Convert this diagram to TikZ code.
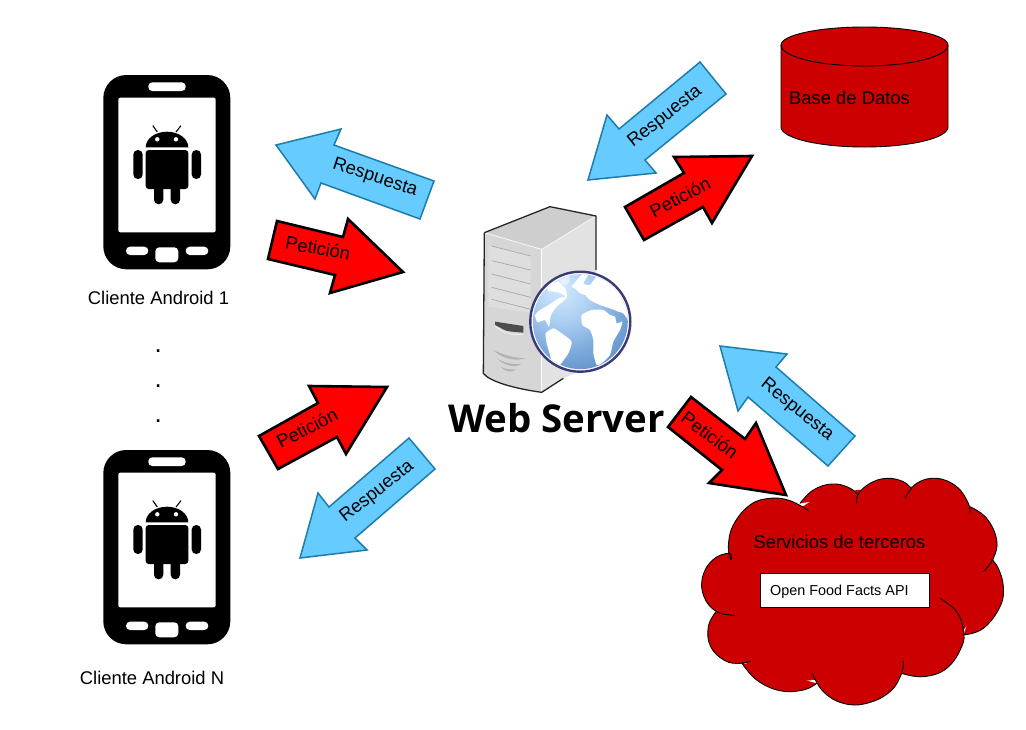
\documentclass[tikz,border=0pt]{standalone}
\usepackage{fontspec}
\setmainfont{Liberation Sans}
\newfontfamily\wsfont{Open Sans}
\definecolor{redfill}{HTML}{FF0000}
\definecolor{bluefill}{HTML}{66CCFF}
\definecolor{blueline}{HTML}{1C7CAC}
\definecolor{darkred}{HTML}{CC0000}
\definecolor{srvtop}{HTML}{CECECE}
\definecolor{srvfront}{HTML}{D6D6D6}
\definecolor{srvside}{HTML}{E2E2E2}
\definecolor{srvpanel}{HTML}{DEDEDE}
\definecolor{srvline}{HTML}{A8A8A8}
\definecolor{ringblue}{HTML}{3B3A78}
\pgfdeclareradialshading{globeshade}{\pgfpoint{-12bp}{20bp}}{rgb(0bp)=(.85,.92,1);rgb(15bp)=(.68,.82,.95);rgb(30bp)=(.47,.65,.85);rgb(50bp)=(.27,.47,.72);rgb(75bp)=(.20,.40,.66)}
\newcommand\cloudarcs{%
  \mylobe{(123,270) (118,250) (70,268) (38,320) (42,380) (80,425) (135,436)}%
  \mylobe{(78,425) (55,470) (62,530) (105,572) (150,580) (182,573)}%
  \mylobe{(155,578) (200,630) (270,662) (340,660) (380,640)}%
  \mylobe{(367,610) (400,665) (460,700) (530,700) (600,665) (635,610) (640,572)}%
  \mylobe{(635,610) (700,620) (770,595) (815,530) (820,480) (800,425) (750,385)}%
  \mylobe{(820,495) (880,475) (930,410) (940,350) (925,295) (905,268)}%
  \mylobe{(840,110) (890,145) (920,210) (910,265) (880,305)}%
  \mylobe{(645,85) (680,40) (740,25) (800,50) (835,100) (840,130)}%
  \mylobe{(500,100) (505,72) (540,40) (590,25) (640,35) (665,58)}%
  \mylobe{(330,100) (370,60) (425,42) (475,52) (505,75)}%
  \mylobe{(355,122) (300,92) (240,85) (180,105) (130,165) (115,230) (123,270)}%
}
\tikzset{
  lbl/.style={inner sep=0pt,font=\fontsize{18.4}{22}\selectfont},
  arrlbl/.style={inner sep=0pt,font=\fontsize{18.4}{22}\selectfont},
  dotlbl/.style={inner sep=0pt,font=\fontsize{26}{28}\selectfont},
  reqarrow/.style={fill=redfill,draw=black,line width=2.6pt,line join=miter,miter limit=8},
  resarrow/.style={fill=bluefill,draw=blueline,line width=1.5pt,line join=miter},
  phonepic/.pic={
    \fill[black,rounded corners=23pt] (103.3,75) rectangle (230.3,269.3);
    \fill[white,rounded corners=2pt] (118.3,97.7) rectangle (215.7,232.3);
    \fill[white,rounded corners=4pt] (148.3,82.3) rectangle (185.7,91);
    \fill[white,rounded corners=4pt] (126,246.7) rectangle (148.3,255);
    \fill[white,rounded corners=4pt] (185.7,246.7) rectangle (208.3,255);
    \fill[white,rounded corners=4pt] (155.3,247.3) rectangle (178.3,262.3);
    \fill[black] (145.7,147.3) arc[start angle=180,end angle=360,x radius=21.3,y radius=15.6] -- cycle;
    \draw[black,line width=1.1pt] (157.3,132) -- (152.8,125.6);
    \draw[black,line width=1.1pt] (176,132) -- (181,125.6);
    \fill[white] (157.3,139.3) circle[radius=2.2];
    \fill[white] (176,139.3) circle[radius=2.2];
    \fill[black,rounded corners=3pt] (145.7,150) -- (188.3,150) -- (188.3,189) -- (145.7,189) -- cycle;
    \fill[black,rounded corners=4.5pt] (133.3,150) rectangle (142.7,179);
    \fill[black,rounded corners=4.5pt] (191.7,150) rectangle (201,179);
    \fill[black,rounded corners=4.5pt] (154,180) rectangle (163.3,204.3);
    \fill[black,rounded corners=4.5pt] (170.7,180) rectangle (180,204.3);
  }
}
\begin{document}
\begin{tikzpicture}[x=1pt,y=-1pt]
\useasboundingbox (0,0) rectangle (1026,729);
\fill[white] (0,0) rectangle (1026,729);

% phones
\pic at (0,0) {phonepic};
\pic at (0,375) {phonepic};
\node[lbl] (c1) at (158.5,298) {Cliente Android 1};
\node[lbl] (cn) at (152,678) {Cliente Android N};
\node[dotlbl] (d1) at (158.3,351) {.};
\node[dotlbl] (d2) at (158.3,386) {.};
\node[dotlbl] (d3) at (158.3,421) {.};

% server
\begin{scope}[shift={(440,190)},scale=0.33333]
  \fill[srvside] (305,178) -- (468,78) -- (468,520) -- (370,565) -- (305,607) -- cycle;
  \fill[srvfront] (133,128) -- (305,178) -- (305,607) .. controls (220,595) and (150,575) .. (130,550) -- cycle;
  \fill[srvtop] (133,128) -- (330,50) -- (468,78) -- (305,178) -- cycle;
  \draw[white,line width=.6pt] (133,128) -- (305,178) -- (468,78);
  \draw[white,line width=.6pt] (305,178) -- (305,600);
  \fill[srvpanel] (145,165) -- (272,197) -- (272,368) -- (145,350) -- cycle;
  \foreach \a/\b in {168/198,212/240,252/282,292/322,328/358}
    \draw[srvline,line width=.7pt] (155,\a) -- (272,\b);
  \fill[black!70] (165,395) -- (250,408) -- (250,428) .. controls (220,425) and (200,425) .. (190,418) -- (165,405) -- cycle;
  \draw[white,line width=.5pt] (165,407) .. controls (185,430) and (225,438) .. (250,432);
  \fill[black!30] (160,480) .. controls (190,495) and (225,505) .. (258,505) .. controls (225,515) and (185,505) .. (160,480) -- cycle;
  \fill[black!30] (170,505) .. controls (190,518) and (220,525) .. (245,522) .. controls (220,535) and (190,525) .. (170,505) -- cycle;
  \fill[black!30] (182,530) .. controls (195,538) and (215,540) .. (228,538) .. controls (215,550) and (195,545) .. (182,530) -- cycle;
  \draw[black!85,line width=1.3pt,line join=round] (133,128) -- (330,50) -- (468,78) -- (468,240);
  \draw[black!85,line width=1.3pt,line join=round] (133,128) -- (130,550) .. controls (150,575) and (220,595) .. (305,607) -- (370,565);
\end{scope}

% globe
\node[circle,inner sep=0pt,minimum size=100pt,fill=white] (globe) at (580.3,321.7) {};
\shade[shading=globeshade] (580.3,321.7) circle[radius=47.5];
\begin{scope}
  \clip (580.3,321.7) circle[radius=47.5];
  \begin{scope}[shift={(525,265)},scale=0.33333]
    \fill[white] plot[smooth cycle,tension=.35] coordinates {(170,150) (200,135) (235,135) (255,150) (270,155) (275,175) (292,170) (285,195) (265,230) (255,270) (230,295) (215,300) (205,265) (205,225) (195,195) (172,180)};
    \fill[white] plot[smooth cycle,tension=.35] coordinates {(140,65) (170,30) (190,28) (175,55) (195,60) (215,35) (255,25) (285,65) (305,110) (318,150) (310,165) (295,145) (280,140) (255,130) (225,120) (195,105) (180,90) (165,85) (150,70)};
    \fill[white] plot[smooth cycle,tension=.35] coordinates {(62,205) (85,190) (110,205) (140,230) (130,265) (105,300) (90,318) (78,280) (65,235)};
    \fill[white] plot[smooth cycle,tension=.35] coordinates {(30,150) (45,135) (75,118) (100,100) (122,95) (100,82) (70,78) (66,62) (100,50) (112,62) (122,72) (125,98) (95,125) (78,150) (72,185) (60,165) (38,172)};
    \fill[white,opacity=.45] plot[smooth cycle,tension=.35] coordinates {(105,45) (130,33) (135,48) (118,62)};
  \end{scope}
\end{scope}
\draw[ringblue,line width=2.4pt] (580.3,321.7) circle[radius=50];

\node[inner sep=0pt,font=\wsfont\bfseries\fontsize{38.4}{44}\selectfont] (ws) at (556.5,418) {Web Server};

% database
\path[fill=darkred,draw=black,line width=.9pt] (781,45) -- (781,127) arc[start angle=180,end angle=0,x radius=83.5,y radius=20] -- (948,45) arc[start angle=0,end angle=-180,x radius=83.5,y radius=18] -- cycle;
\draw[black,line width=.9pt] (781,45) arc[start angle=180,end angle=0,x radius=83.5,y radius=21];
\node[lbl,anchor=west] (db) at (789,98) {Base de Datos};

% cloud
\begin{scope}[shift={(690,470)},scale=0.33333]
  \fill[darkred] (118,250) -- (400,70) -- (505,60) -- (665,50) -- (840,110) -- (910,268) -- (930,350) -- (820,480) -- (640,600) -- (370,630) -- (270,640) -- (175,590) -- (78,425) -- cycle;
  \def\mylobe#1{\fill[darkred] plot[smooth,tension=.7] coordinates {#1};}
  \cloudarcs
  \def\mylobe#1{\draw[black,line width=.9pt] plot[smooth,tension=.7] coordinates {#1};}
  \cloudarcs
\end{scope}
\node[lbl] (svc) at (839.5,542) {Servicios de terceros};
\node[draw=black,fill=white,line width=.9pt,minimum width=168.6pt,minimum height=33.6pt,inner sep=0pt] (api) at (845,590.5) {};
\node[inner sep=0pt,anchor=west,font=\fontsize{14.4}{18}\selectfont] (apit) at (770,592) {Open Food Facts API};

% arrows
\draw[resarrow] (276,145) -- (341,129) -- (334,145) -- (434,181) -- (420,219) -- (321,183) -- (315,199) -- cycle;
\node[arrlbl,rotate=-18] (t1) at (375,178) {Respuesta};
\draw[reqarrow] (277,221) -- (268,259) -- (335,275) -- (330,293) -- (403,272) -- (348,219) -- (343,237) -- cycle;
\node[arrlbl,rotate=-10] (t2) at (318,248) {Petición};
\draw[reqarrow] (259,436) -- (278,469) -- (337,437) -- (346,454) -- (387,387) -- (309,386) -- (318,403) -- cycle;
\node[arrlbl,rotate=27] (t3) at (307,428) {Petición};
\draw[resarrow] (409,438) -- (435,469) -- (355,538) -- (367,550) -- (300,558) -- (318,493) -- (329,507) -- cycle;
\node[arrlbl,rotate=38] (t4) at (377,492) {Respuesta};
\draw[resarrow] (700,62) -- (726,94) -- (645,160) -- (656,173) -- (588,180) -- (607,115) -- (619,129) -- cycle;
\node[arrlbl,rotate=38] (t5) at (665,117) {Respuesta};
\draw[reqarrow] (625,207) -- (644,240) -- (703,207) -- (712,223) -- (752,156) -- (674,157) -- (684,173) -- cycle;
\node[arrlbl,rotate=28] (t6) at (680,197) {Petición};
\draw[resarrow] (720,346) -- (787,354) -- (776,367) -- (855,436) -- (828,466) -- (748,397) -- (738,411) -- cycle;
\node[arrlbl,rotate=-39] (t7) at (797,410) {Respuesta};
\draw[reqarrow] (691,397) -- (668,427) -- (722,470) -- (709,483) -- (786,495) -- (756,423) -- (745,439) -- cycle;
\node[arrlbl,rotate=-37] (t8) at (710,435) {Petición};
\end{tikzpicture}
\end{document}
